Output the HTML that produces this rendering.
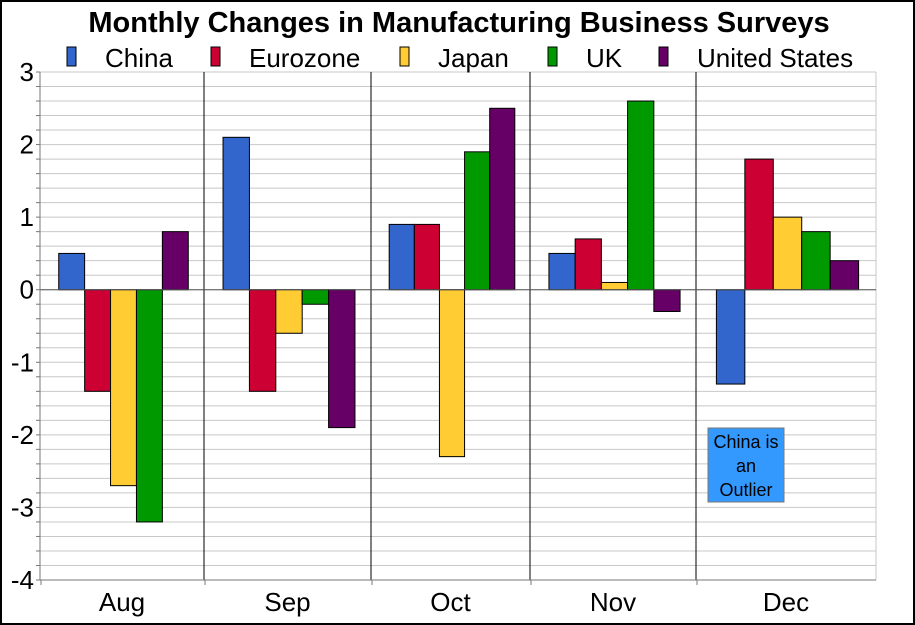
<!DOCTYPE html>
<html><head><meta charset="utf-8"><style>
body{margin:0;background:#fff}
svg{display:block;font-family:"Liberation Sans",Arial,sans-serif}
</style></head><body>
<svg id="c" width="915" height="625">
<rect x="1" y="1" width="913" height="623" fill="#fff" stroke="#000" stroke-width="2"/>
<text x="459" y="32" text-anchor="middle" font-size="29" font-weight="bold">Monthly Changes in Manufacturing Business Surveys</text>
<g id="grid"></g><g id="bars"></g><g id="axes"></g><g id="legend"></g>
<rect x="708" y="428" width="76" height="74" fill="#3399ff" stroke="#777"/>
<text text-anchor="middle" font-size="18"><tspan x="746" y="448">China is</tspan><tspan x="746" y="472">an</tspan><tspan x="746" y="496">Outlier</tspan></text>
</svg>
<script>
const categories=["Aug","Sep","Oct","Nov","Dec"];
const seriesNames=["China","Eurozone","Japan","UK","United States"];
const seriesColors=["#3366cc","#cc0033","#ffcc33","#009900","#660066"];
const china=[0.5,2.1,0.9,0.5,-1.3];
const eurozone=[-1.4,-1.4,0.9,0.7,1.8];
const japan=[-2.7,-0.6,-2.3,0.1,1.0];
const uk=[-3.2,-0.2,1.9,2.6,0.8];
const us=[0.8,-1.9,2.5,-0.3,0.4];
const yTicks=[3,2,1,0,-1,-2,-3,-4];
const series=[china,eurozone,japan,uk,us];
const NS="http://www.w3.org/2000/svg";
const L=40,R=876,T=72,B=580,yMax=3,yMin=-4;
const groupEdges=[40,204,371,530,696,876];
const y=v=>T+(yMax-v)/(yMax-yMin)*(B-T);
function mk(p,tag,a){const e=document.createElementNS(NS,tag);for(const k in a)e.setAttribute(k,a[k]);p.appendChild(e);return e;}
const grid=document.getElementById('grid'),bars=document.getElementById('bars'),axes=document.getElementById('axes'),leg=document.getElementById('legend');
for(let v=yMin;v<=yMax+1e-9;v+=0.2){
 const g=mk(grid,'line',{x1:L,x2:R,y1:y(v),y2:y(v),stroke:'#c8c8c8','stroke-width':1});
 
 
 const t=mk(axes,'line',{x1:L-4,x2:L,y1:y(v),y2:y(v),stroke:'#777'});
 
 
}
const rg=mk(grid,'line',{x1:R,x2:R,y1:T,y2:B,stroke:'#c8c8c8'});


for(let i=1;i<categories.length;i++){
 const s=mk(grid,'line',{x1:groupEdges[i],x2:groupEdges[i],y1:T,y2:B,stroke:'#000'});
 
 
}
categories.forEach((c,i)=>{
 const g0=groupEdges[i],gw=groupEdges[i+1]-g0;
 const bw=gw*0.158,cx=g0+gw/2+1.5,start=cx-bw*2.5;
 series.forEach((s,j)=>{
  const v=s[i],y0=y(0),yv=y(v);
  const r=mk(bars,'rect',{x:start+j*bw,y:Math.min(y0,yv),width:bw,height:Math.abs(yv-y0),fill:seriesColors[j],stroke:'#000','stroke-width':1});
  
  
 });
 const t=mk(axes,'text',{x:g0+gw/2,y:611,'text-anchor':'middle','font-size':26});
 t.textContent=c;
 
 
 const tk=mk(axes,'line',{x1:g0+1,x2:g0+1,y1:B,y2:B+5,stroke:'#777'});
 
 
});
const zl=mk(axes,'line',{x1:L,x2:R,y1:y(0),y2:y(0),stroke:'#555'});


const ya=mk(axes,'line',{x1:L,x2:L,y1:T,y2:B,stroke:'#777'});


const xa=mk(axes,'line',{x1:L,x2:R,y1:B,y2:B,stroke:'#777'});


yTicks.forEach(v=>{
 const t=mk(axes,'text',{x:34,y:y(v)+9,'text-anchor':'end','font-size':26});
 t.textContent=v;
 
 
});
const lx=[67,211,400,548,659];
seriesNames.forEach((n,j)=>{
 const r=mk(leg,'rect',{x:lx[j],y:47,width:9,height:19,fill:seriesColors[j],stroke:'#000'});
 
 
 const t=mk(leg,'text',{x:lx[j]+38,y:67,'font-size':26});
 t.textContent=n;
 
 
});
</script>
</body></html>
